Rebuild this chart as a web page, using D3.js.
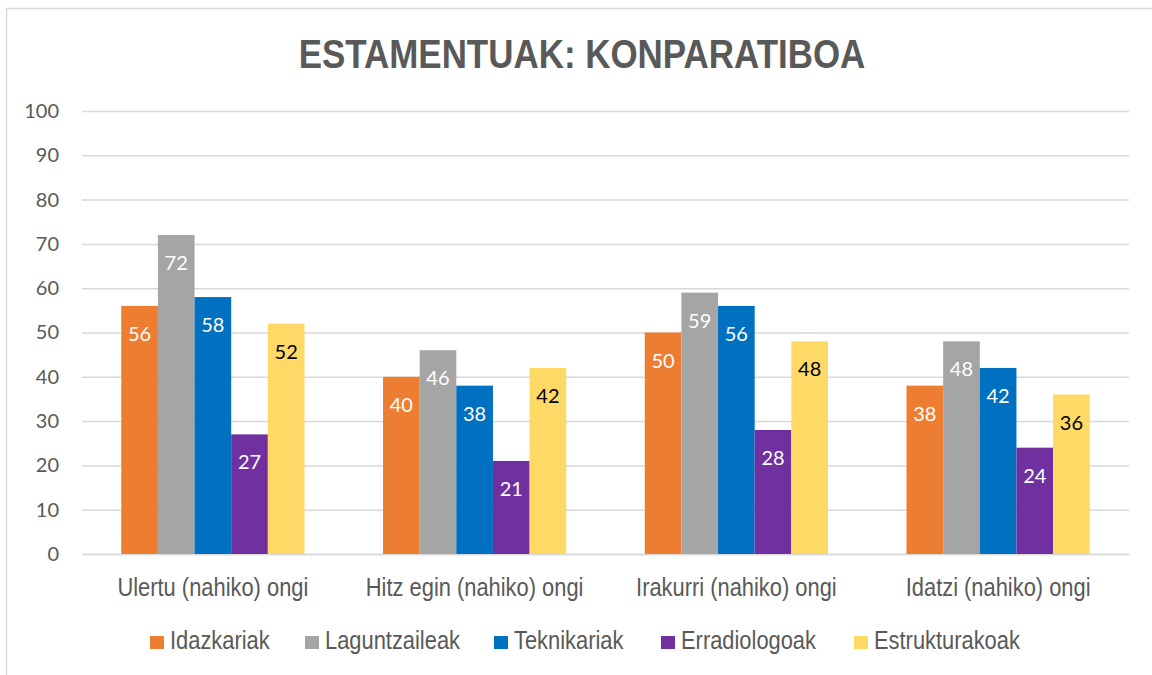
<!DOCTYPE html>
<html>
<head>
<meta charset="utf-8">
<script src="https://cdn.jsdelivr.net/npm/d3@7"></script>
<style>
  body { margin: 0; background: #fff; }
  svg { display: block; }
  .narrow { font-family: "Liberation Sans", Arial, sans-serif; }
  .calib { font-family: Lato, "Open Sans", sans-serif; }
</style>
</head>
<body>
<svg id="chart" width="1152" height="675"></svg>
<script>
// chart data
var categories = ['Ulertu (nahiko) ongi', 'Hitz egin (nahiko) ongi', 'Irakurri (nahiko) ongi', 'Idatzi (nahiko) ongi'];
var seriesNames = ['Idazkariak', 'Laguntzaileak', 'Teknikariak', 'Erradiologoak', 'Estrukturakoak'];
var idazkariak = [56, 40, 50, 38];
var laguntzaileak = [72, 46, 59, 48];
var teknikariak = [58, 38, 56, 42];
var erradiologoak = [27, 21, 28, 24];
var estrukturakoak = [52, 42, 48, 36];
var yTicks = [0, 10, 20, 30, 40, 50, 60, 70, 80, 90, 100];

var seriesValues = [idazkariak, laguntzaileak, teknikariak, erradiologoak, estrukturakoak];
var colors = ['#ED7D31', '#A5A5A5', '#0070C0', '#7030A0', '#FFD966'];
var labelColors = ['#fff', '#fff', '#fff', '#fff', '#000'];

var svg = d3.select('#chart');

// squeeze text horizontally to mimic the narrow font of the original
function condense(sel, factor) {
    sel.each(function () {
        var w = this.getComputedTextLength();
        d3.select(this)
            .attr('textLength', w * factor)
            .attr('lengthAdjust', 'spacingAndGlyphs');
    });
}

// outer chart frame
svg.append('rect')
    .attr('x', 6.5).attr('y', 8.5)
    .attr('width', 1200).attr('height', 700)
    .attr('fill', 'none')
    .attr('stroke', '#d9d9d9')
    .attr('stroke-width', 1.5);

var margin = {left: 82, right: 1129, top: 111, bottom: 554};

var x0 = d3.scaleBand()
    .domain(categories)
    .range([margin.left, margin.right])
    .paddingInner(0.3)
    .paddingOuter(0.15);

var x1 = d3.scaleBand()
    .domain(seriesNames)
    .range([0, x0.bandwidth()]);

var y = d3.scaleLinear()
    .domain([0, 100])
    .range([margin.bottom, margin.top]);

// gridlines
var yAxis = d3.axisLeft(y)
    .tickValues(yTicks)
    .tickSize(-(margin.right - margin.left))
    .tickPadding(23);

var gy = svg.append('g')
    .attr('transform', 'translate(' + margin.left + ',0)')
    .call(yAxis);
gy.select('.domain').remove();
gy.selectAll('.tick line')
    .attr('stroke', '#d9d9d9')
    .attr('stroke-width', 1.5);
gy.selectAll('.tick text')
    .attr('class', 'calib')
    .attr('fill', '#595959')
    .style('font-size', '20px');

// x axis
var xAxis = d3.axisBottom(x0).tickSize(0);
var gx = svg.append('g')
    .attr('transform', 'translate(0,' + margin.bottom + ')')
    .call(xAxis);
gx.select('.domain')
    .attr('stroke', '#d9d9d9')
    .attr('stroke-width', 1.5);
gx.selectAll('.tick text')
    .attr('class', 'narrow')
    .attr('y', 42)
    .attr('dy', null)
    .attr('fill', '#595959')
    .style('font-size', '25px')
    .call(condense, 0.875);

// bars
var groups = svg.append('g').selectAll('g')
    .data(categories)
    .join('g')
    .attr('transform', function (d) { return 'translate(' + x0(d) + ',0)'; });

groups.each(function (cat, ci) {
    var g = d3.select(this);
    seriesNames.forEach(function (s, si) {
        var v = seriesValues[si][ci];
        g.append('rect')
            .attr('x', x1(s))
            .attr('y', y(v))
            .attr('width', x1.bandwidth())
            .attr('height', y(0) - y(v))
            .attr('fill', colors[si]);
        g.append('text')
            .attr('class', 'calib')
            .attr('x', x1(s) + x1.bandwidth() / 2)
            .attr('y', y(v) + 35)
            .attr('text-anchor', 'middle')
            .attr('fill', labelColors[si])
            .style('font-size', '20px')
            .text(v);
    });
});

// title
svg.append('text')
    .attr('class', 'narrow')
    .attr('x', 582)
    .attr('y', 68)
    .attr('text-anchor', 'middle')
    .attr('fill', '#595959')
    .style('font-size', '41px')
    .style('font-weight', 'bold')
    .text('ESTAMENTUAK: KONPARATIBOA')
    .call(condense, 0.852);

// legend
var legendX = [150, 305, 494, 661, 854];
var legend = svg.append('g').selectAll('g')
    .data(seriesNames)
    .join('g')
    .attr('transform', function (d, i) { return 'translate(' + legendX[i] + ',636)'; });
legend.append('rect')
    .attr('width', 14).attr('height', 13)
    .attr('fill', function (d, i) { return colors[i]; });
legend.append('text')
    .attr('class', 'narrow')
    .attr('x', 20)
    .attr('y', 13)
    .attr('fill', '#595959')
    .style('font-size', '25px')
    .text(function (d) { return d; })
    .call(condense, 0.875);
</script>
</body>
</html>
